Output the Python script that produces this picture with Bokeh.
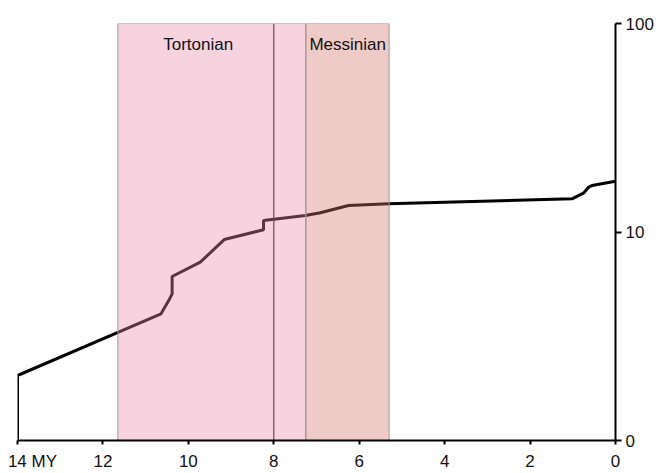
from bokeh.plotting import figure
from bokeh.models import Range1d, FixedTicker, Label, ColumnDataSource
from bokeh.embed import file_html
from bokeh.resources import INLINE

# ---- data ----
ages = [14.0, 14.0, 10.64, 10.46, 10.38, 10.38, 9.72, 9.16, 8.24, 8.24,
        7.26, 6.91, 6.25, 5.31, 1.02, 0.75, 0.63, 0.55, 0.0]
values = [1.0, 2.05, 4.05, 4.69, 5.05, 6.12, 7.17, 9.2, 10.25, 11.36,
          12.0, 12.36, 13.4, 13.65, 14.43, 15.35, 16.4, 16.7, 17.5]

stage_names = ["Tortonian", "Messinian"]
stage_start = [11.65, 7.25]
stage_end = [7.25, 5.3]
stage_colors = ["#EB8AAA", "#D4766F"]
marker_age = [8.0]

x_ticks = [0, 2, 4, 6, 8, 10, 12, 14]
x_tick_labels = ["0", "2", "4", "6", "8", "10", "12", "14 MY"]
y_ticks = [1, 10, 100]
y_tick_labels = ["0", "10", "100"]

FONT = "Liberation Sans"

p = figure(width=658, height=473, output_backend="svg", toolbar_location=None,
           x_range=Range1d(14, 0), y_range=Range1d(1, 100),
           y_axis_type="log", y_axis_location="right",
           min_border_left=17, min_border_top=23, min_border_bottom=33,
           min_border_right=43)
p.outline_line_color = None
p.xgrid.visible = False
p.ygrid.visible = False
p.background_fill_color = "white"

# line
p.line(ages, values, line_color="black", line_width=3)

# marker line at 8 My
p.segment(x0=marker_age, y0=[1], x1=marker_age, y1=[100],
          line_color="#222222", line_width=1.2)

# stages (translucent overlays drawn over the line)
src = ColumnDataSource(dict(left=stage_start, right=stage_end,
                            bottom=[1, 1], top=[100, 100], color=stage_colors))
p.quad(left="left", right="right", bottom="bottom", top="top", source=src,
       fill_color="color", fill_alpha=0.38, line_color="#9a9a9a", line_width=1)

for name, x, in zip(stage_names, [9.77, 6.27]):
    p.add_layout(Label(x=x, y=79, text=name, text_align="center",
                       text_baseline="middle", text_font=FONT,
                       text_font_size="17px", text_color="#111111"))

# x axis: tick marks drawn as minor ticks at the tick values; the wide
# "14 MY" label is anchored a little inside the frame so it is not cut off
label_pos = list(x_ticks[:-1]) + [13.65]
xa = p.xaxis[0]
xa.ticker = FixedTicker(ticks=label_pos, minor_ticks=x_ticks)
xa.major_label_overrides = {t: s for t, s in zip(label_pos, x_tick_labels)}
xa.major_tick_line_color = None
xa.major_tick_in = 0
xa.major_tick_out = 0
xa.minor_tick_line_color = "black"
xa.minor_tick_in = 0
xa.minor_tick_out = 4
xa.minor_tick_line_width = 2
xa.axis_line_width = 2
xa.major_label_standoff = 7
xa.major_label_text_font = FONT
xa.major_label_text_font_size = "17px"
xa.major_label_text_color = "#111111"

# y axis
ya = p.yaxis[0]
ya.ticker = FixedTicker(ticks=y_ticks)
ya.major_label_overrides = {t: s for t, s in zip(y_ticks, y_tick_labels)}
ya.minor_tick_line_color = None
ya.major_tick_in = 0
ya.major_tick_out = 6
ya.axis_line_width = 2
ya.major_tick_line_width = 2
ya.major_label_standoff = 4
ya.major_label_text_font = FONT
ya.major_label_text_font_size = "17px"
ya.major_label_text_color = "#111111"

open("out.html", "w").write(file_html(p, INLINE))
